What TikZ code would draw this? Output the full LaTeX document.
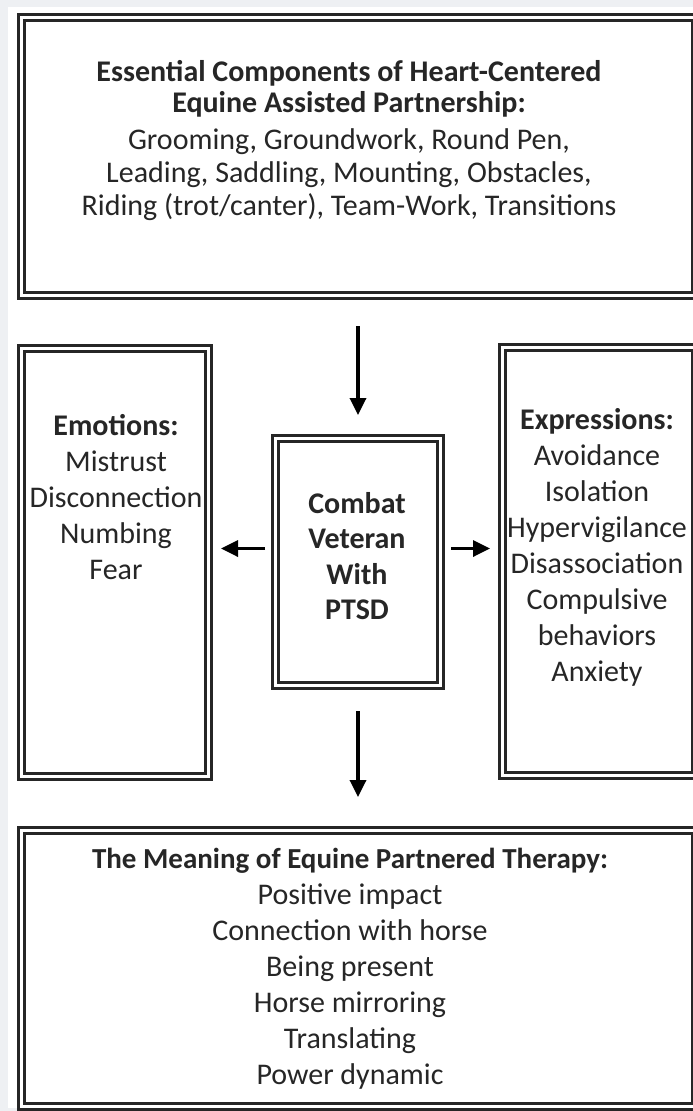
\documentclass[tikz,border=0pt]{standalone}
\usepackage{fontspec}
\setmainfont{Carlito}
\usetikzlibrary{arrows.meta,calc}
\definecolor{bggray}{HTML}{EEF0F3}
\definecolor{txt}{HTML}{262626}
\begin{document}
\begin{tikzpicture}[x=1pt,y=1pt,
  dbox/.style={draw=black!85, line width=3pt, double=white, double distance=3.2pt, inner sep=0pt},
  lbl/.style={align=center, text=txt, inner sep=0pt, font=\fontsize{30}{36}\selectfont},
  arr/.style={line width=3.4pt, -{Triangle[length=17pt,width=16pt]}}]
\useasboundingbox (0,0) rectangle (693,-1111);
\clip (0,0) rectangle (693,-1111);
\fill[bggray] (0,0) rectangle (693,-1111);
\fill[white] (8,-7) rectangle (693,-1108);
% boxes
\node[dbox, minimum width=674pt, minimum height=278pt, anchor=north west] (top) at (20,-16) {};
\node[dbox, minimum width=187pt, minimum height=428pt, anchor=north west] (left) at (20,-347) {};
\node[dbox, minimum width=165pt, minimum height=247pt, anchor=north west] (mid) at (274,-437) {};
\node[dbox, minimum width=193pt, minimum height=428pt, anchor=north west] (right) at (501,-346) {};
\node[dbox, minimum width=674pt, minimum height=276pt, anchor=north west] (bot) at (20,-829) {};
% texts
\node[lbl, font=\fontsize{30}{31}\selectfont\bfseries, anchor=center] (toptitle) at (349,-89) {Essential Components of Heart-Centered\\Equine Assisted Partnership:};
\node[lbl, font=\fontsize{30}{33}\selectfont, anchor=center] (toptext) at (349,-175) {Grooming, Groundwork, Round Pen,\\Leading, Saddling, Mounting, Obstacles,\\Riding (trot/canter), Team-Work, Transitions};
\node[lbl, anchor=center] (lefttext) at (116,-497) {\textbf{Emotions:}\\Mistrust\\Disconnection\\Numbing\\Fear};
\node[lbl, font=\fontsize{30}{35.5}\selectfont\bfseries, anchor=center] (midtext) at (357,-556) {Combat\\Veteran\\With\\PTSD};
\node[lbl, anchor=center] (righttext) at (597,-547) {\textbf{Expressions:}\\Avoidance\\Isolation\\Hypervigilance\\Disassociation\\Compulsive\\behaviors\\Anxiety};
\node[lbl, anchor=center] (bottext) at (350,-969) {{\fontsize{29}{36}\selectfont\bfseries The Meaning of Equine Partnered Therapy:}\\Positive impact\\Connection with horse\\Being present\\Horse mirroring\\Translating\\Power dynamic};
% arrows
\draw[arr, shorten <=29pt, shorten >=22pt] (top.south -| mid.north) -- (mid.north);
\draw[arr, shorten <=9pt, shorten >=11pt] ($(mid.west)+(0,13.5)$) -- ($(mid.west -| left.east)+(0,13.5)$);
\draw[arr, shorten <=9pt, shorten >=11pt] ($(mid.east)+(0,13.5)$) -- ($(mid.east -| right.west)+(0,13.5)$);
\draw[arr, shorten <=24pt, shorten >=32pt] (mid.south) -- (mid.south |- bot.north);
\end{tikzpicture}
\end{document}
